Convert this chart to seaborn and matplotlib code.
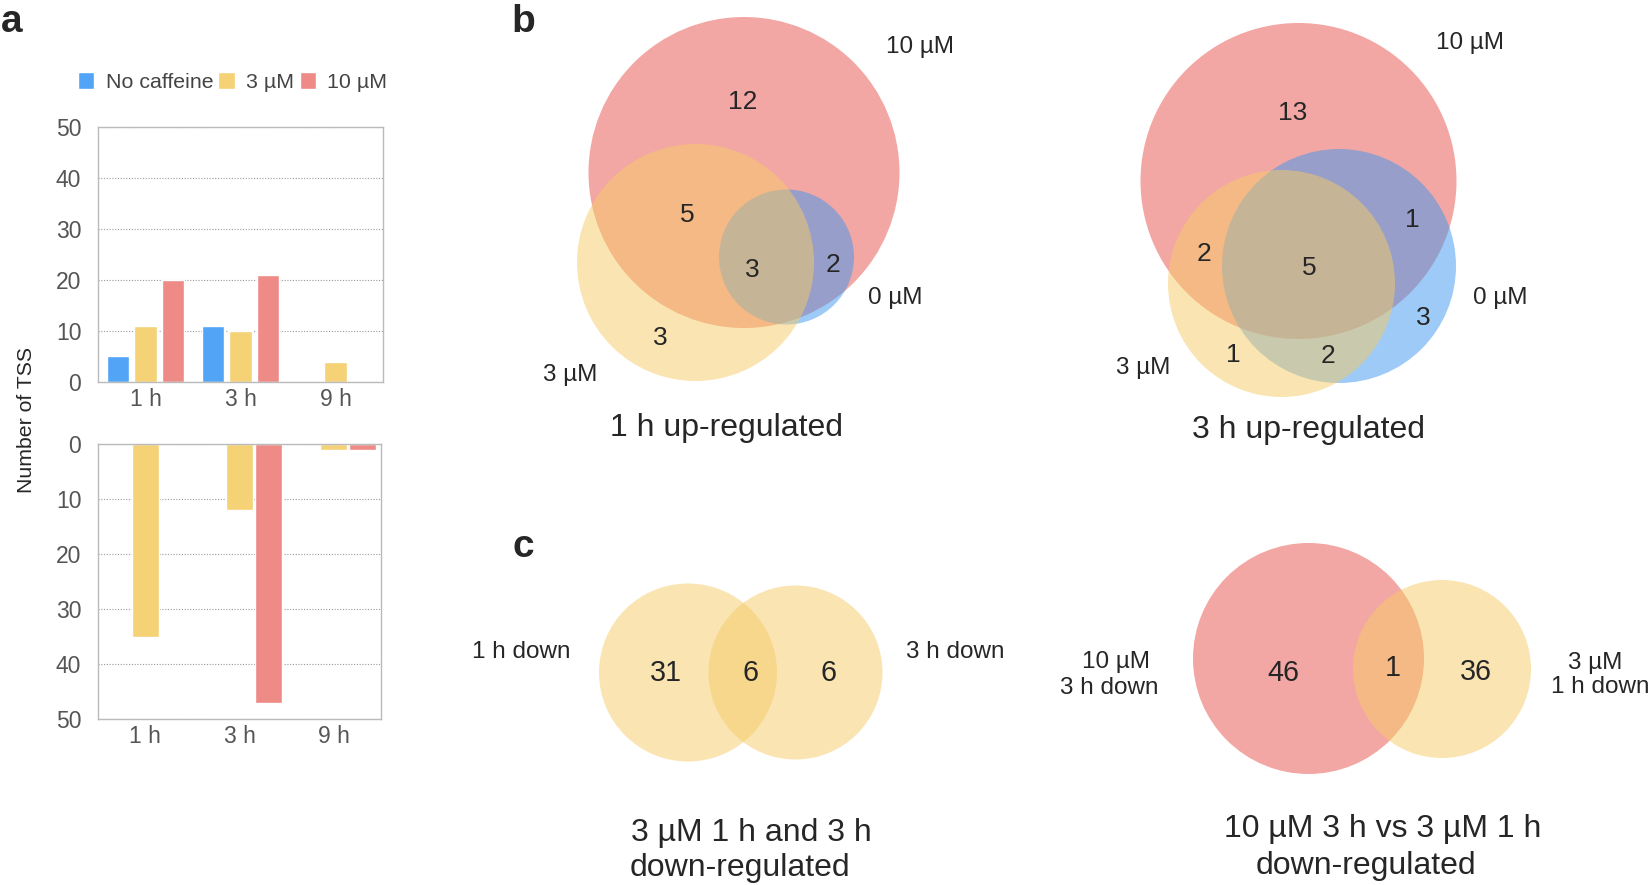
import matplotlib
matplotlib.use("Agg")
import matplotlib.pyplot as plt
from matplotlib.patches import Circle
import pandas as pd
import seaborn as sns

# panel a: number of TSS per time point and caffeine dose
times = ["1 h", "3 h", "9 h"]
treatments = ["No caffeine", "3 µM", "10 µM"]
up_no_caffeine = [5, 11, 0]
up_3uM = [11, 10, 4]
up_10uM = [20, 21, 0]
down_no_caffeine = [0, 0, 0]
down_3uM = [35, 12, 1]
down_10uM = [0, 47, 1]

# panels b, c: venn region counts
b1_counts = [12, 5, 3, 2, 3]          # 10 only, 10&3, all, 10&0, 3 only
b2_counts = [13, 2, 5, 1, 3, 1, 2]    # 10 only, 10&3, all, 10&0, 0 only, 3 only, 3&0
c1_counts = [31, 6, 6]
c2_counts = [46, 1, 36]

BLUE, YELLOW, RED = "#52A5F6", "#F6D277", "#EE8B86"
V_RED, V_YELLOW, V_BLUE = "#E8504A", "#F5CB66", "#3D96EE"

sns.set_style("white")
plt.rcParams["font.family"] = ["Liberation Sans", "DejaVu Sans"]

W, H = 1650, 885
fig = plt.figure(figsize=(W / 100, H / 100), dpi=100)


def px_axes(left, top, right, bottom):
    return fig.add_axes([left / W, 1 - bottom / H, (right - left) / W, (bottom - top) / H])


def to_long(a, b, c):
    rows = []
    for tr, vals in zip(treatments, [a, b, c]):
        for t, v in zip(times, vals):
            rows.append({"time": t, "treatment": tr, "count": v})
    return pd.DataFrame(rows)


# overlay in pixel units for the venn panels
ax_v = fig.add_axes([0, 0, 1, 1])
ax_v.set_xlim(0, W)
ax_v.set_ylim(H, 0)
ax_v.axis("off")

up = to_long(up_no_caffeine, up_3uM, up_10uM)
down = to_long(down_no_caffeine, down_3uM, down_10uM)
palette = dict(zip(treatments, [BLUE, YELLOW, RED]))

ax_up = px_axes(98, 127, 383, 382)
sns.barplot(data=up, x="time", y="count", hue="treatment", hue_order=treatments,
            palette=palette, width=0.86, gap=0.19, saturation=1, errorbar=None, ax=ax_up)
ax_down = px_axes(98, 444, 381, 719)
sns.barplot(data=down, x="time", y="count", hue="treatment", hue_order=treatments,
            palette=palette, width=0.92, gap=0.06, saturation=1, errorbar=None,
            legend=False, ax=ax_down)

for ax in (ax_up, ax_down):
    ax.set_xlabel("")
    ax.set_ylabel("")
    ax.set_yticks(range(0, 51, 10))
    ax.yaxis.grid(True, linestyle=(0, (1, 1.5)), color="#999999", lw=0.8)
    ax.xaxis.grid(False)
    ax.set_axisbelow(True)
    for s in ax.spines.values():
        s.set_visible(True)
        s.set_color("#BBBBBB")
        s.set_linewidth(1)
    ax.tick_params(length=0, labelsize=16.5, labelcolor="#555555")
    ax.tick_params(axis="y", pad=12)
    ax.tick_params(axis="x", pad=4)
ax_up.set_ylim(0, 50)
ax_down.set_ylim(50, 0)

sns.move_legend(ax_up, "center left", bbox_to_anchor=(67 / W, 1 - 82 / H),
                bbox_transform=fig.transFigure, ncol=3, title=None, frameon=False,
                fontsize=15.4, handlelength=0.75, handleheight=0.8, handletextpad=0.55,
                columnspacing=0.25, borderpad=0, labelcolor="#444444")

fig.text(27 / W, 1 - 420 / H, "Number of TSS", rotation=90, ha="center", va="center",
         fontsize=15.3)

# venn layout: circles (cx, cy, r, colour) in pixels, then label positions
b1_circles = [(744, 172.5, 155.5, V_RED), (786.5, 257, 67.5, V_BLUE), (695.5, 262.5, 118.5, V_YELLOW)]
b1_pos = [(743, 102), (687, 215), (752, 270), (833, 265), (660, 338)]
b1_sets = [("10 µM", 920, 47), ("0 µM", 895, 298), ("3 µM", 570, 375)]

b2_circles = [(1298.5, 181, 158, V_RED), (1339, 266, 117, V_BLUE), (1281.5, 283.5, 113.5, V_YELLOW)]
b2_pos = [(1293, 113), (1204, 254), (1309, 268), (1412, 220), (1423, 318), (1233, 355), (1328, 356)]
b2_sets = [("10 µM", 1470, 43), ("0 µM", 1500, 298), ("3 µM", 1143, 368)]

c1_circles = [(688, 672.5, 89, V_YELLOW), (795.5, 672.5, 87, V_YELLOW)]
c1_pos = [(666, 673), (751, 673), (828, 673)]
c1_sets = [("1 h down", 521, 652), ("3 h down", 955, 652)]

c2_circles = [(1308.5, 658.5, 115.5, V_RED), (1442, 669, 89, V_YELLOW)]
c2_pos = [(1283, 673), (1393, 668), (1476, 672)]
c2_sets = [("10 µM", 1116, 662), ("3 h down", 1109, 688), ("3 µM", 1595, 663), ("1 h down", 1600, 687)]


def draw_venn(circles, counts, pos, sets, num_size):
    for cx, cy, r, col in circles:
        ax_v.add_patch(Circle((cx, cy), r, facecolor=col, edgecolor="none", alpha=0.5))
    for n, (x, y) in zip(counts, pos):
        ax_v.text(x, y, str(n), ha="center", va="center", fontsize=num_size)
    for txt, x, y in sets:
        ax_v.text(x, y, txt, ha="center", va="center", fontsize=17.5)


draw_venn(b1_circles, b1_counts, b1_pos, b1_sets, 19)
draw_venn(b2_circles, b2_counts, b2_pos, b2_sets, 19)
draw_venn(c1_circles, c1_counts, c1_pos, c1_sets, 20.7)
draw_venn(c2_circles, c2_counts, c2_pos, c2_sets, 20.7)

titles = [("1 h up-regulated", 726, 428), ("3 h up-regulated", 1308, 430),
          ("3 µM 1 h and 3 h", 751, 833), ("down-regulated", 740, 868),
          ("10 µM 3 h vs 3 µM 1 h", 1383, 829), ("down-regulated", 1366, 866)]
for txt, x, y in titles:
    ax_v.text(x, y, txt, ha="center", va="center", fontsize=23)

for letter, x, y in [("a", 1, 32), ("b", 511, 32), ("c", 513, 557)]:
    ax_v.text(x, y, letter, ha="left", va="baseline", fontsize=28, fontweight="bold")

fig.savefig("out.png", dpi=100)
